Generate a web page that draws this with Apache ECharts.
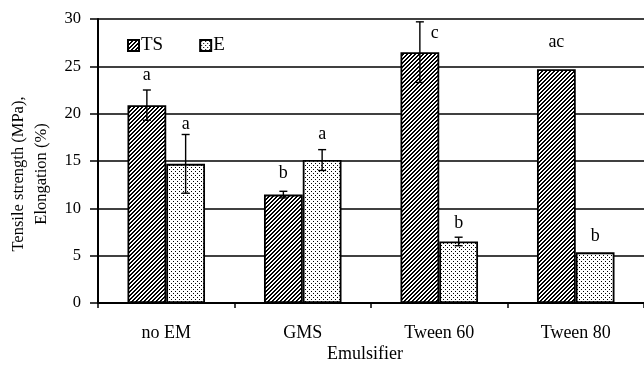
<!DOCTYPE html>
<html><head><meta charset="utf-8">
<script src="https://cdn.jsdelivr.net/npm/echarts@6/dist/echarts.min.js"></script>
<style>html,body{margin:0;padding:0;background:#fff}#c{width:644px;height:366px}</style>
</head><body><div id="c"></div>
<script>
var categories = ['no EM', 'GMS', 'Tween 60', 'Tween 80'];
var tsValues = [20.9, 11.45, 26.5, 24.7];
var tsErrors = [1.6, 0.35, 3.2, 0];
var eValues = [14.7, 15.1, 6.5, 5.35];
var eErrors = [3.1, 1.1, 0.45, 0];
var tsLetters = ['a', 'b', 'c', 'ac'];
var eLetters = ['a', 'a', 'b', 'b'];
var yTicks = [0, 5, 10, 15, 20, 25, 30];

var FONT = 'Liberation Serif';
var BAR_FRAC = 0.284;

function makeTile(kind) {
  var c = document.createElement('canvas');
  c.width = 4; c.height = 4;
  var ctx = c.getContext('2d');
  ctx.fillStyle = '#fff'; ctx.fillRect(0, 0, 4, 4);
  ctx.fillStyle = '#000';
  for (var x = 0; x < 4; x++) for (var y = 0; y < 4; y++) {
    if (kind === 'hatch') {
      if ((x + y) % 4 < 2) ctx.fillRect(x, y, 1, 1);
    } else {
      if ((x === 1 && y === 1) || (x === 3 && y === 3)) ctx.fillRect(x, y, 1, 1);
    }
  }
  return c;
}
var hatch = { image: makeTile('hatch'), repeat: 'repeat' };
var dots = { image: makeTile('dots'), repeat: 'repeat' };

// letter offsets in px relative to the top of the error bar (style only)
var tsLetterShift = [[0, -15], [0, -18], [15, 11], [0, -27]];
var eLetterShift = [[0, -10], [0, -15], [0, -14], [0, -16]];

function errData(vals, errs, side) {
  return vals.map(function (v, i) { return [i, v, errs[i], side]; });
}

function renderErr(params, api) {
  var i = api.value(0), v = api.value(1), e = api.value(2), side = api.value(3);
  if (!e) return null;
  var bw = api.size([1, 0])[0] * BAR_FRAC;
  var c = api.coord([i, v]);
  var x = c[0] + (side === 0 ? -bw / 2 : bw / 2);
  var yt = api.coord([i, v + e])[1];
  var yb = api.coord([i, v - e])[1];
  var st = { stroke: '#000', lineWidth: 1.4 };
  return { type: 'group', children: [
    { type: 'line', shape: { x1: x, y1: yt, x2: x, y2: yb }, style: st },
    { type: 'line', shape: { x1: x - 4, y1: yt, x2: x + 4, y2: yt }, style: st },
    { type: 'line', shape: { x1: x - 4, y1: yb, x2: x + 4, y2: yb }, style: st }
  ]};
}

function letterData(vals, errs, letters, side) {
  return vals.map(function (v, i) { return [i, v + errs[i], side, letters[i]]; });
}
function renderLetter(params, api) {
  var i = api.value(0), top = api.value(1), side = api.value(2);
  var idx = params.dataIndex;
  var sh = side === 0 ? tsLetterShift[idx] : eLetterShift[idx];
  var txt = side === 0 ? tsLetters[idx] : eLetters[idx];
  var bw = api.size([1, 0])[0] * BAR_FRAC;
  var c = api.coord([i, top]);
  var x = c[0] + (side === 0 ? -bw / 2 : bw / 2) + sh[0];
  return { type: 'text', x: x, y: c[1] + sh[1],
    style: { text: txt, fill: '#000', font: '18px "' + FONT + '"', align: 'center', verticalAlign: 'middle' } };
}

var chart = echarts.init(document.getElementById('c'), null, { renderer: 'canvas' });
chart.setOption({
  animation: false,
  backgroundColor: '#fff',
  textStyle: { fontFamily: FONT, color: '#000' },
  grid: { left: 98, right: -4, top: 19, bottom: 63, containLabel: false },
  legend: {
    left: 127, top: 36, padding: 0, itemWidth: 11, itemHeight: 11, itemGap: 36,
    icon: 'rect',
    textStyle: { fontFamily: FONT, fontSize: 19, color: '#000', padding: [0, 0, 0, -3] },
    data: ['TS', 'E']
  },
  xAxis: {
    type: 'category', data: categories,
    axisLine: { lineStyle: { color: '#000', width: 2 } },
    axisTick: { show: true, length: 5, lineStyle: { color: '#000', width: 1.5 } },
    axisLabel: { fontFamily: FONT, fontSize: 18, color: '#000', margin: 21 },
    splitLine: { show: false }
  },
  yAxis: {
    type: 'value', min: yTicks[0], max: yTicks[yTicks.length - 1], interval: yTicks[1] - yTicks[0],
    axisLine: { show: true, lineStyle: { color: '#000', width: 2 } },
    axisTick: { show: true, length: 8, lineStyle: { color: '#000', width: 1.5 } },
    axisLabel: { fontFamily: FONT, fontSize: 16.5, color: '#000', margin: 17 },
    splitLine: { show: true, lineStyle: { color: '#000', width: 1.5 } }
  },
  graphic: [
    { type: 'text', x: 30, y: 174, rotation: Math.PI / 2, z: 10,
      style: { text: 'Tensile strength (MPa),\nElongation (%)', font: '16.5px "' + FONT + '"', fill: '#000',
        align: 'center', verticalAlign: 'middle', lineHeight: 23 } },
    { type: 'text', x: 365, y: 354, z: 10,
      style: { text: 'Emulsifier', font: '18px "' + FONT + '"', fill: '#000', align: 'center', verticalAlign: 'middle' } }
  ],
  series: [
    { name: 'TS', type: 'bar', data: tsValues, barWidth: (BAR_FRAC * 100) + '%', barGap: '0%',
      itemStyle: { color: hatch, borderColor: '#000', borderWidth: 1.8 } },
    { name: 'E', type: 'bar', data: eValues, barWidth: (BAR_FRAC * 100) + '%', barGap: '0%',
      itemStyle: { color: dots, borderColor: '#000', borderWidth: 1.8 } },
    { type: 'custom', renderItem: renderErr, data: errData(tsValues, tsErrors, 0), z: 5 },
    { type: 'custom', renderItem: renderErr, data: errData(eValues, eErrors, 1), z: 5 },
    { type: 'custom', renderItem: renderLetter, data: letterData(tsValues, tsErrors, tsLetters, 0), z: 6 },
    { type: 'custom', renderItem: renderLetter, data: letterData(eValues, eErrors, eLetters, 1), z: 6 }
  ]
});
</script>
</body></html>
